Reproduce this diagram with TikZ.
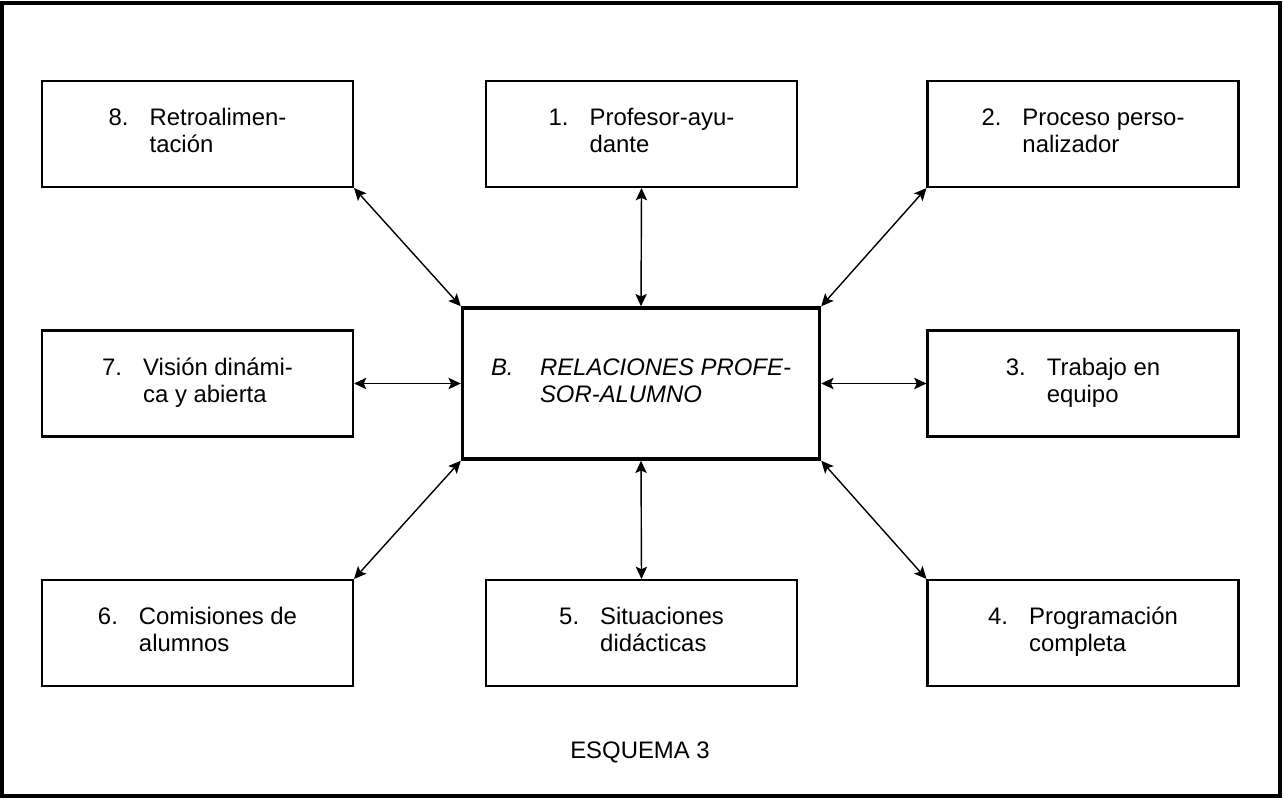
\documentclass[tikz,border=0pt]{standalone}
\usepackage{fontspec}
\setmainfont{Liberation Sans}
\usepackage{array}
\usetikzlibrary{arrows.meta}

\newcommand{\boxfont}{\fontsize{13.6pt}{15.3pt}\selectfont}
\newcommand{\numtext}[4][0.82cm]{\begin{tabular}{@{}p{#1}@{}l@{}}#2&#3\\&#4\end{tabular}}

\tikzset{
  itembox/.style={draw, line width=1.2pt, minimum width=6.22cm, minimum height=2.12cm, inner sep=0pt, font=\boxfont},
  corebox/.style={draw, line width=2pt, minimum width=7.14cm, minimum height=3.02cm, inner sep=0pt, font=\boxfont\itshape},
  link/.style={line width=0.8pt, {Stealth[length=7pt,width=6.5pt,inset=1.5pt]}-{Stealth[length=7pt,width=6.5pt,inset=1.5pt]}}
}

\begin{document}
\begin{tikzpicture}[x=0.02cm,y=-0.02cm]
\useasboundingbox (0,0) rectangle (1284,798);
\draw[line width=2pt] (2,3) rectangle (1280,796);

\node[corebox] (rel) at (641,383.5) {\numtext[0.98cm]{B.}{RELACIONES PROFE-}{SOR-ALUMNO}};

\node[itembox] (prof) at (641.5,134) {\numtext{1.}{Profesor-ayu-}{dante}};
\node[itembox] (proc) at (1083,134) {\numtext{2.}{Proceso perso-}{nalizador}};
\node[itembox] (trab) at (1083,383.5) {\numtext{3.}{Trabajo en}{equipo}};
\node[itembox] (prog) at (1083,633) {\numtext{4.}{Programación}{completa}};
\node[itembox] (sit) at (641.5,633) {\numtext{5.}{Situaciones}{didácticas}};
\node[itembox] (com) at (197.5,633) {\numtext{6.}{Comisiones de}{alumnos}};
\node[itembox] (vis) at (197.5,383.5) {\numtext{7.}{Visión dinámi-}{ca y abierta}};
\node[itembox] (retro) at (197.5,134) {\numtext{8.}{Retroalimen-}{tación}};

\draw[link] (rel.north) -- (prof.south);
\draw[link] (rel.north east) -- (proc.south west);
\draw[link] (rel.east) -- (trab.west);
\draw[link] (rel.south east) -- (prog.north west);
\draw[link] (rel.south) -- (sit.north);
\draw[link] (rel.south west) -- (com.north east);
\draw[link] (rel.west) -- (vis.east);
\draw[link] (rel.north west) -- (retro.south east);

\node[font=\boxfont] (esq) at (640,752) {ESQUEMA 3};
\end{tikzpicture}
\end{document}
